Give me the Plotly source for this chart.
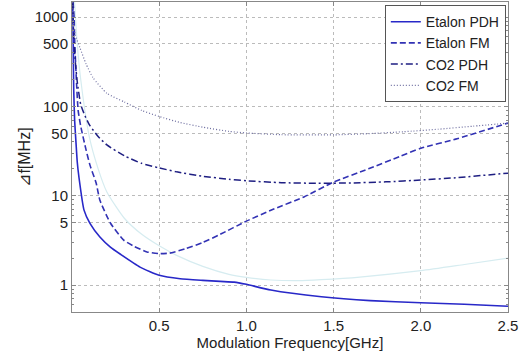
import plotly.graph_objects as go

# Etalon PDH (solid)
f_epdh = [0.004, 0.006, 0.008, 0.01, 0.015, 0.023, 0.03, 0.04, 0.069, 0.103, 0.16, 0.22, 0.28, 0.39, 0.5, 0.62, 0.75, 0.85, 0.93, 1.0, 1.14, 1.43, 1.71, 2.0, 2.25, 2.5]
v_epdh = [1470, 800, 300, 150, 70, 39, 24, 16, 6.9, 4.9, 3.45, 2.66, 2.2, 1.59, 1.29, 1.18, 1.13, 1.1, 1.08, 1.02, 0.88, 0.74, 0.67, 0.635, 0.61, 0.58]

# Etalon FM (dashed)
f_efm = [0.006, 0.012, 0.016, 0.025, 0.035, 0.05, 0.08, 0.103, 0.138, 0.16, 0.22, 0.295, 0.35, 0.43, 0.5, 0.56, 0.65, 0.75, 0.85, 1.0, 1.15, 1.33, 1.5, 1.7, 1.885, 2.0, 2.2, 2.5]
v_efm = [1470, 1000, 500, 200, 91, 60, 33, 22, 14, 8.9, 4.95, 3.2, 2.75, 2.35, 2.25, 2.28, 2.55, 3.0, 3.7, 5.2, 7.0, 9.7, 14.2, 20, 27.8, 34, 43, 65]

# CO2 PDH (dash-dot)
f_cpdh = [0.004, 0.01, 0.02, 0.03, 0.05, 0.075, 0.1, 0.15, 0.2, 0.3, 0.4, 0.5, 0.6, 0.75, 0.9, 1.0, 1.2, 1.4, 1.6, 1.8, 2.0, 2.2, 2.5]
v_cpdh = [1470, 600, 300, 190, 105, 78, 62, 46, 37, 28, 23, 20.5, 18.5, 16.5, 15.3, 14.7, 14.0, 13.8, 13.9, 14.3, 15.0, 15.9, 17.9]

# CO2 FM (dotted)
f_cfm = [0.004, 0.01, 0.02, 0.046, 0.08, 0.12, 0.2, 0.3, 0.4, 0.5, 0.62, 0.75, 0.9, 1.0, 1.2, 1.5, 1.7, 1.9, 2.1, 2.3, 2.5]
v_cfm = [1470, 800, 620, 450, 300, 210, 140, 112, 90, 77, 66, 58.5, 52.5, 50.4, 48.2, 48, 49.5, 52, 55.5, 60, 65]

# unlabelled faint curve
f_faint = [0.015, 0.03, 0.05, 0.1, 0.15, 0.2, 0.3, 0.4, 0.5, 0.6, 0.75, 0.9, 1.0, 1.14, 1.3, 1.43, 1.65, 2.0, 2.25, 2.5]
v_faint = [1470, 500, 200, 45, 20, 11, 5.6, 3.7, 2.75, 2.15, 1.62, 1.32, 1.22, 1.14, 1.12, 1.15, 1.23, 1.45, 1.7, 2.0]

y_tickvals = [1, 5, 10, 50, 100, 500, 1000]
y_ticktext = ["1", "5", "10", "50", "100", "500", "1000"]
x_tickvals = [0.5, 1.0, 1.5, 2.0, 2.5]
x_ticktext = ["0.5", "1.0", "1.5", "2.0", "2.5"]
minor_vals = [0.6, 0.7, 0.8, 0.9, 2, 3, 4, 6, 7, 8, 9, 20, 30, 40, 60, 70, 80, 90, 200, 300, 400, 600, 700, 800, 900]

fig = go.Figure()
fig.add_trace(go.Scatter(x=f_faint, y=v_faint, mode="lines", showlegend=False,
                         line=dict(color="rgb(214,236,240)", width=1.2, shape="spline", smoothing=0.6)))
fig.add_trace(go.Scatter(x=f_epdh, y=v_epdh, mode="lines", name="Etalon PDH",
                         line=dict(color="rgb(40,40,200)", width=1.6, shape="spline", smoothing=0.5)))
fig.add_trace(go.Scatter(x=f_efm, y=v_efm, mode="lines", name="Etalon FM",
                         line=dict(color="rgb(50,50,180)", width=1.6, dash="6px,3px", shape="spline", smoothing=0.5)))
fig.add_trace(go.Scatter(x=f_cpdh, y=v_cpdh, mode="lines", name="CO2 PDH",
                         line=dict(color="rgb(30,30,130)", width=1.5, dash="7px,3px,2px,3px", shape="spline", smoothing=0.5)))
fig.add_trace(go.Scatter(x=f_cfm, y=v_cfm, mode="lines", name="CO2 FM",
                         line=dict(color="rgb(110,110,160)", width=1.2, dash="1px,2px", shape="spline", smoothing=0.5)))

axis_common = dict(showline=True, linecolor="#888888", linewidth=1, mirror="allticks",
                   ticks="inside", ticklen=4, tickcolor="#888888",
                   showgrid=True, gridcolor="#bbbbbb", griddash="dot", gridwidth=1,
                   zeroline=False, tickfont=dict(size=15, color="#222222"))

fig.update_xaxes(range=[0, 2.5], tickvals=x_tickvals, ticktext=x_ticktext,
                 title=dict(text="Modulation Frequency[GHz]", font=dict(size=15, color="#222222"), standoff=2),
                 **axis_common)
fig.update_yaxes(type="log", range=[-0.301, 3.168], tickvals=y_tickvals, ticktext=y_ticktext,
                 title=dict(text="⊿f[MHz]", font=dict(size=16, color="#222222"), standoff=0),
                 minor=dict(tickvals=minor_vals, ticks="inside", ticklen=2, tickcolor="#888888", showgrid=False),
                 **axis_common)

fig.update_layout(
    width=524, height=354,
    margin=dict(l=72, r=16, t=2, b=42),
    paper_bgcolor="white", plot_bgcolor="white",
    font=dict(family="Liberation Sans, Arial, sans-serif", size=15, color="#222222"),
    legend=dict(x=0.995, y=0.99, xanchor="right", yanchor="top",
                bgcolor="white", bordercolor="#555555", borderwidth=1,
                font=dict(size=14, color="#222222"), itemwidth=30,
                tracegroupgap=0),
)

fig.write_html("out.html", config={"displayModeBar": False},
               post_script="document.body.style.margin='0';document.body.style.padding='0';")
